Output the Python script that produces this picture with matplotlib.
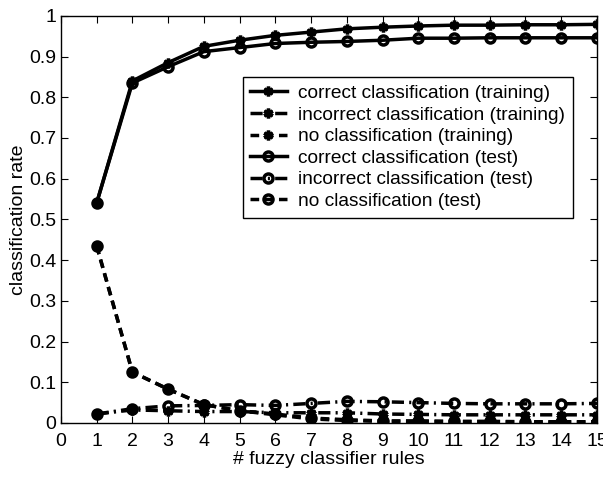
import numpy as np
import matplotlib.pyplot as plt

plt.rcParams['font.family'] = ['Liberation Sans', 'DejaVu Sans']

rules = [1, 2, 3, 4, 5, 6, 7, 8, 9, 10, 11, 12, 13, 14, 15]

correct_train = [0.54, 0.84, 0.885, 0.925, 0.94, 0.952, 0.96, 0.968, 0.972, 0.975, 0.977, 0.977, 0.978, 0.978, 0.979]
incorrect_train = [0.022, 0.032, 0.030, 0.028, 0.028, 0.025, 0.025, 0.025, 0.022, 0.021, 0.020, 0.020, 0.020, 0.020, 0.020]
noclass_train = [0.435, 0.125, 0.083, 0.045, 0.030, 0.020, 0.010, 0.006, 0.004, 0.004, 0.003, 0.003, 0.002, 0.002, 0.002]
correct_test = [0.54, 0.835, 0.875, 0.912, 0.922, 0.932, 0.935, 0.937, 0.940, 0.945, 0.945, 0.946, 0.946, 0.946, 0.946]
incorrect_test = [0.022, 0.035, 0.042, 0.043, 0.045, 0.043, 0.048, 0.053, 0.052, 0.050, 0.048, 0.047, 0.047, 0.047, 0.048]
noclass_test = [0.435, 0.125, 0.083, 0.045, 0.030, 0.022, 0.012, 0.008, 0.005, 0.005, 0.004, 0.004, 0.003, 0.003, 0.003]

asterisk = (6, 2, 0)  # matlab-style '*'
dashdot = (0, (3.5, 1.5, 0.6, 1.5))
dashed = (0, (2.5, 1.6))

series = [
    (correct_train, '-', asterisk, 'correct classification (training)'),
    (incorrect_train, dashdot, asterisk, 'incorrect classification (training)'),
    (noclass_train, dashed, asterisk, 'no classification (training)'),
    (correct_test, '-', 'o', 'correct classification (test)'),
    (incorrect_test, dashdot, 'o', 'incorrect classification (test)'),
    (noclass_test, dashed, 'o', 'no classification (test)'),
]

fig = plt.figure(figsize=(6.03, 4.79), dpi=100)
ax = fig.add_axes([0.101, 0.117, 0.889, 0.850])

for vals, ls, mk, lab in series:
    ax.plot(rules, vals, linestyle=ls, marker=mk, color='black', linewidth=2.5,
            markersize=6.5 if mk == 'o' else 7, markeredgewidth=2.5,
            markerfacecolor='none', label=lab)

ax.set_xlim(0, 15)
ax.set_ylim(0, 1)
ax.set_xticks(range(0, 16))
ax.set_yticks(np.arange(0, 1.01, 0.1))
ax.set_yticklabels(['0', '0.1', '0.2', '0.3', '0.4', '0.5', '0.6', '0.7', '0.8', '0.9', '1'])
ax.tick_params(direction='in', top=True, right=True, length=5, labelsize=14)
ax.tick_params(axis='x', pad=7)
for s in ax.spines.values():
    s.set_linewidth(1)

ax.set_xlabel('# fuzzy classifier rules', fontsize=14, labelpad=1)
ax.set_ylabel('classification rate', fontsize=14, labelpad=1)

leg = ax.legend(loc='upper right', bbox_to_anchor=(0.955, 0.850), fontsize=13.8,
                frameon=True, fancybox=False, edgecolor='black', framealpha=1,
                handlelength=1.9, handletextpad=0.6, borderpad=0.4,
                labelspacing=0.22, borderaxespad=0)
leg.get_frame().set_linewidth(1)

fig.savefig('out.png', dpi=100)
